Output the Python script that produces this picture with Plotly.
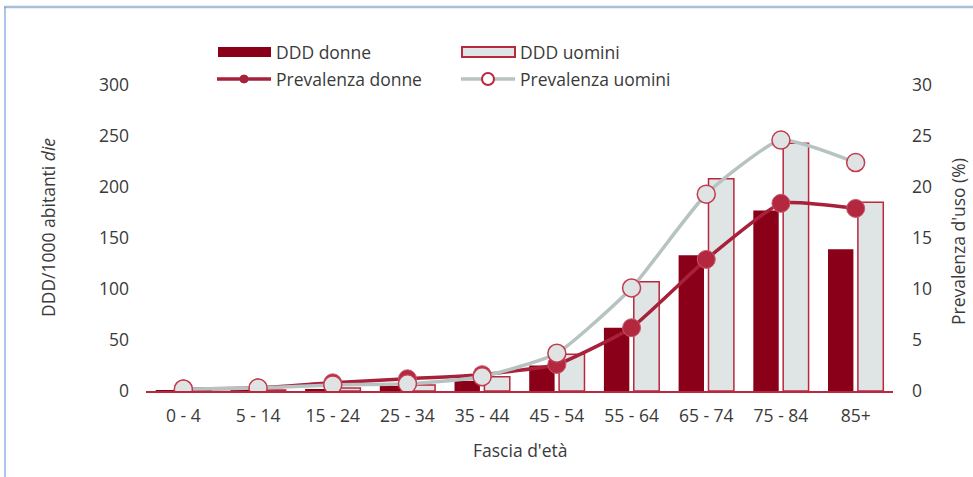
import plotly.graph_objects as go

categories = ["0 - 4", "5 - 14", "15 - 24", "25 - 34", "35 - 44", "45 - 54", "55 - 64", "65 - 74", "75 - 84", "85+"]
ddd_donne = [0.3, 1, 2, 5, 10, 25, 62, 133, 177, 139]
ddd_uomini = [0.3, 1, 3, 6, 14, 36, 107, 208, 243, 185]
prev_donne = [0.2, 0.3, 0.8, 1.2, 1.6, 2.6, 6.2, 12.9, 18.4, 17.9]
prev_uomini = [0.2, 0.3, 0.6, 0.7, 1.4, 3.7, 10.1, 19.3, 24.6, 22.4]

W, H = 973, 477
L, R, T, B = 146, 80, 85, 86
pw, ph = W - L - R, H - T - B


def px_x(x):
    return (x - L) / pw


def px_y(y):
    return (H - B - y) / ph


DARK = "#8b0019"
RED = "#b8283e"
LIGHT = "#dfe4e4"
GREY_LINE = "#b7c3c1"
DONNE_LINE = "#a8213a"
FONT = "Open Sans"
TXT = "#3a3a3a"
FS = 17.5

fig = go.Figure()
fig.add_trace(go.Bar(
    x=categories, y=ddd_donne, name="DDD donne",
    marker=dict(color=DARK, line=dict(color=DARK, width=0)),
    showlegend=False,
))
fig.add_trace(go.Bar(
    x=categories, y=ddd_uomini, name="DDD uomini",
    marker=dict(color=LIGHT, line=dict(color=RED, width=1.5)),
    showlegend=False,
))
fig.add_trace(go.Scatter(
    x=categories, y=prev_donne, name="Prevalenza donne", yaxis="y2",
    mode="lines+markers",
    line=dict(color=DONNE_LINE, width=3.5, shape="spline", smoothing=0.4),
    marker=dict(size=18, color="#b3283e", line=dict(color="#c9576a", width=1)),
    showlegend=False,
))
fig.add_trace(go.Scatter(
    x=categories, y=prev_uomini, name="Prevalenza uomini", yaxis="y2",
    mode="lines+markers",
    line=dict(color=GREY_LINE, width=3.5, shape="spline", smoothing=0.5),
    marker=dict(size=18, color="#dfe3e3", line=dict(color="#c23b4e", width=1.5)),
    showlegend=False,
))

# custom legend (symbols as shapes, labels as text)
legend_labels = ["DDD donne", "DDD uomini", "Prevalenza donne", "Prevalenza uomini"]
col_x = [217, 461]
row_y = [52, 79]
sym_w = 54

shapes = [
    # outer frame lines
    dict(type="line", xref="paper", yref="paper",
         x0=px_x(4), x1=px_x(973), y0=px_y(7), y1=px_y(7),
         line=dict(color="#a9bfd9", width=2.5)),
    dict(type="line", xref="paper", yref="paper",
         x0=px_x(5), x1=px_x(5), y0=px_y(7), y1=px_y(477),
         line=dict(color="#5a8fd8", width=1)),
    # legend: DDD donne
    dict(type="rect", xref="paper", yref="paper",
         x0=px_x(col_x[0] + 1), x1=px_x(col_x[0] + sym_w), y0=px_y(row_y[0] - 5), y1=px_y(row_y[0] + 5),
         fillcolor=DARK, line=dict(width=0)),
    # legend: DDD uomini
    dict(type="rect", xref="paper", yref="paper",
         x0=px_x(col_x[1] + 1), x1=px_x(col_x[1] + sym_w), y0=px_y(row_y[0] - 5), y1=px_y(row_y[0] + 5),
         fillcolor=LIGHT, line=dict(color=RED, width=2)),
    # legend: Prevalenza donne
    dict(type="line", xref="paper", yref="paper",
         x0=px_x(col_x[0]), x1=px_x(col_x[0] + sym_w), y0=px_y(row_y[1]), y1=px_y(row_y[1]),
         line=dict(color=DONNE_LINE, width=3.5)),
    dict(type="circle", xref="paper", yref="paper",
         x0=px_x(col_x[0] + sym_w / 2 - 4), x1=px_x(col_x[0] + sym_w / 2 + 4),
         y0=px_y(row_y[1] - 4), y1=px_y(row_y[1] + 4),
         fillcolor="#a8213a", line=dict(color="#a8213a", width=1)),
    # legend: Prevalenza uomini
    dict(type="line", xref="paper", yref="paper",
         x0=px_x(col_x[1]), x1=px_x(col_x[1] + sym_w), y0=px_y(row_y[1]), y1=px_y(row_y[1]),
         line=dict(color=GREY_LINE, width=3.5)),
    dict(type="circle", xref="paper", yref="paper",
         x0=px_x(col_x[1] + sym_w / 2 - 6), x1=px_x(col_x[1] + sym_w / 2 + 6),
         y0=px_y(row_y[1] - 6), y1=px_y(row_y[1] + 6),
         fillcolor="#ffffff", line=dict(color="#b8283e", width=2)),
]

annotations = []
for i, lab in enumerate(legend_labels):
    cx = col_x[i % 2] + sym_w + 3
    cy = row_y[i // 2]
    annotations.append(dict(
        text=lab, xref="paper", yref="paper", x=px_x(cx), y=px_y(cy),
        xanchor="left", yanchor="middle", showarrow=False,
        font=dict(family=FONT, size=FS, color=TXT),
    ))
annotations.append(dict(
    text="DDD/1000 abitanti <i>die</i>", xref="paper", yref="paper",
    x=px_x(48), y=px_y(228), xanchor="center", yanchor="middle", textangle=-90,
    showarrow=False, font=dict(family=FONT, size=FS, color=TXT),
))
annotations.append(dict(
    text="Prevalenza d'uso (%)", xref="paper", yref="paper",
    x=px_x(958), y=px_y(242), xanchor="center", yanchor="middle", textangle=-90,
    showarrow=False, font=dict(family=FONT, size=FS, color=TXT),
))
annotations.append(dict(
    text="Fascia d'età", xref="paper", yref="paper",
    x=px_x(520), y=px_y(450), xanchor="center", yanchor="middle",
    showarrow=False, font=dict(family=FONT, size=FS, color=TXT),
))

fig.update_layout(
    width=W, height=H,
    margin=dict(l=L, r=R, t=T, b=B, autoexpand=False),
    paper_bgcolor="white", plot_bgcolor="white",
    font=dict(family=FONT, size=FS, color=TXT),
    barmode="group", bargap=0.2, bargroupgap=0.15,
    showlegend=False,
    xaxis=dict(
        range=[-0.5, len(categories) - 0.5], autorange=False,
        showgrid=False, showline=True, linecolor=RED, linewidth=2,
        ticks="", tickfont=dict(size=FS, color=TXT), ticklabelstandoff=8,
        automargin=False,
    ),
    yaxis=dict(
        range=[0, 300], tickvals=[0, 50, 100, 150, 200, 250, 300],
        showgrid=False, zeroline=False, showline=False, ticks="",
        tickfont=dict(size=FS, color=TXT), ticklabelstandoff=16,
        automargin=False,
    ),
    yaxis2=dict(
        range=[0, 30], tickvals=[0, 5, 10, 15, 20, 25, 30],
        overlaying="y", side="right",
        showgrid=False, zeroline=False, showline=False, ticks="",
        tickfont=dict(size=FS, color=TXT), ticklabelstandoff=18,
        automargin=False,
    ),
    shapes=shapes,
    annotations=annotations,
)

fig.write_html("out.html", config={"displayModeBar": False},
               post_script="document.body.style.margin='0';")
